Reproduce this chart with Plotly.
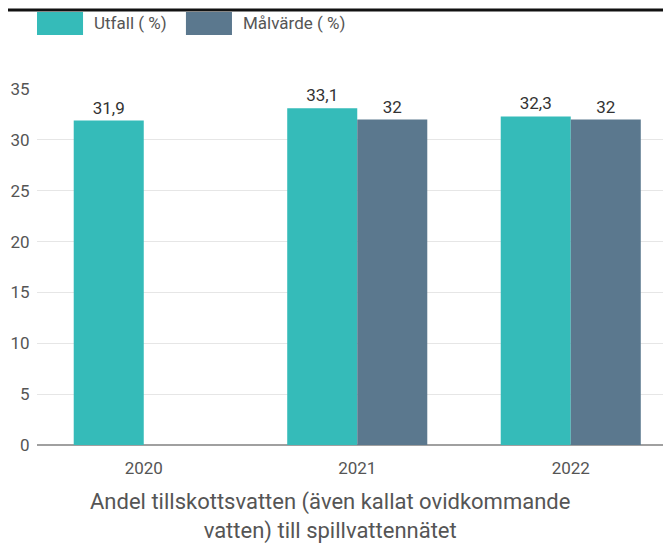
import plotly.graph_objects as go

years = ["2020", "2021", "2022"]
utfall = [31.9, 33.1, 32.3]
malvarde = [None, 32, 32]

TEAL = "#35BBB9"
SLATE = "#5B788E"
FONT = "Roboto, sans-serif"


def fmt(vals):
    return ["" if v is None else f"{v:g}".replace(".", ",") for v in vals]


fig = go.Figure()

fig.add_trace(go.Bar(
    x=years, y=utfall, name="Utfall ( %)",
    marker=dict(color=TEAL, line=dict(width=0)),
    text=fmt(utfall), textposition="outside",
    textfont=dict(size=17, color="#333333"),
    cliponaxis=False, showlegend=False,
))
fig.add_trace(go.Bar(
    x=years, y=malvarde, name="Målvärde ( %)",
    marker=dict(color=SLATE, line=dict(width=0)),
    text=fmt(malvarde), textposition="outside",
    textfont=dict(size=17, color="#333333"),
    cliponaxis=False, showlegend=False,
))

# ---- manual legend with wide swatches ----
fig.add_shape(type="rect", xref="paper", yref="paper",
              x0=0, x1=0.0717, y0=1.152, y1=1.216,
              fillcolor=TEAL, line_width=0)
fig.add_shape(type="rect", xref="paper", yref="paper",
              x0=0.232, x1=0.3037, y0=1.152, y1=1.216,
              fillcolor=SLATE, line_width=0)
fig.add_annotation(text="Utfall ( %)", xref="paper", yref="paper",
                   x=0.0857, y=1.184, xanchor="left", yanchor="middle",
                   showarrow=False, font=dict(size=17, color="#555555"))
fig.add_annotation(text="Målvärde ( %)", xref="paper", yref="paper",
                   x=0.318, y=1.184, xanchor="left", yanchor="middle",
                   showarrow=False, font=dict(size=17, color="#555555"))

# top border line
fig.add_shape(type="line", xref="paper", yref="paper",
              x0=-0.05, x1=1.0, y0=1.222, y1=1.222,
              line=dict(color="#111111", width=3))

# title under the axis
fig.add_annotation(
    text="Andel tillskottsvatten (även kallat ovidkommande<br>vatten) till spillvattennätet",
    xref="paper", yref="paper", x=0.456, y=-0.2,
    xanchor="center", yanchor="middle", showarrow=False,
    font=dict(size=22, color="#555555"))

fig.update_layout(
    width=671, height=544,
    margin=dict(l=29, r=0, t=81, b=107, autoexpand=False),
    paper_bgcolor="white", plot_bgcolor="white",
    barmode="group", bargap=0.344, bargroupgap=0,
    font=dict(family=FONT, color="#555555"),
    xaxis=dict(
        range=[-0.5, 2.507], showgrid=False, showline=False,
        tickfont=dict(size=17, color="#555555"),
        ticks="outside", ticklen=8, tickcolor="rgba(0,0,0,0)",
    ),
    yaxis=dict(
        range=[0, 35], dtick=5, showgrid=True, gridcolor="#E6E6E6",
        gridwidth=1, zeroline=True, zerolinecolor="#A0A0A0", zerolinewidth=2,
        tickfont=dict(size=17, color="#555555"),
        ticks="outside", ticklen=3, tickcolor="rgba(0,0,0,0)",
    ),
)

fig.write_html("out.html")
